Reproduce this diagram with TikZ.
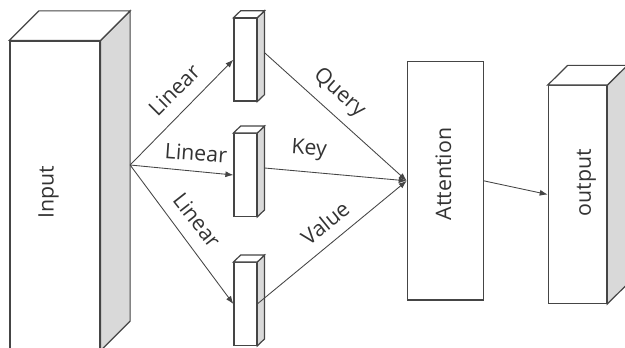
\documentclass[tikz,border=0pt]{standalone}
\usepackage{fontspec}
\setmainfont{Open Sans}
\usetikzlibrary{arrows.meta}

\definecolor{edge}{HTML}{454545}
\definecolor{sidegray}{HTML}{D9D9D9}
\definecolor{ink}{HTML}{333333}

% top and right faces of a cuboid whose front face is node #1, depth (#2,#3) in px
\newcommand\cubefaces[3]{%
  \draw[boxline, fill=sidegray] (#1.north east) -- ++(#2,-#3)
    -- ([shift={(#2,-#3)}]#1.south east) -- (#1.south east) -- cycle;
  \draw[boxline, fill=white] (#1.north west) -- ++(#2,-#3)
    -- ([shift={(#2,-#3)}]#1.north east) -- (#1.north east) -- cycle;
}

\begin{document}
\begin{tikzpicture}[x=0.75pt, y=-0.75pt,
  boxline/.style={draw=edge, line width=0.9pt, line join=miter},
  face/.style={boxline, fill=white, inner sep=0pt, rectangle},
  conn/.style={draw=edge, line width=0.65pt, -{Latex[length=6pt,width=4.5pt]}},
  plain/.style={draw=edge, line width=0.65pt},
  lbl/.style={text=ink, font=\fontsize{16}{18}\selectfont, inner sep=0pt},
]
\useasboundingbox (0,0) rectangle (625,348);
\clip (0,0) rectangle (625,348);

% Input block
\node[face, minimum width=67.5pt, minimum height=231.75pt] (inp) at (55,195.5) {};
\cubefaces{inp}{29.5}{29.5}
\node[lbl, rotate=90] (inptxt) at (48.5,192.5) {Input};

% Query / Key / Value blocks
\node[face, minimum width=17pt, minimum height=62pt] (qb) at (245.3,59.7) {};
\cubefaces{qb}{7.3}{7}
\node[face, minimum width=17pt, minimum height=62pt] (kb) at (245.3,175) {};
\cubefaces{kb}{7.3}{7}
\node[face, minimum width=17pt, minimum height=62pt] (vb) at (245.3,304) {};
\cubefaces{vb}{7.3}{7}

% Attention block
\node[face, minimum width=57pt, minimum height=178.7pt] (att) at (445.3,180.85) {};
\node[lbl, rotate=90] (atttxt) at (443.5,174) {Attention};

% output block
\node[face, minimum width=43.8pt, minimum height=163.2pt] (outb) at (577.5,194.5) {};
\cubefaces{outb}{20}{19.7}
\node[lbl, rotate=90] (outtxt) at (586.5,182.5) {output};

% connector end points on the depth faces
\coordinate (src) at ([shift={(29.5,-30.5)}]inp.east);
\coordinate (qout) at ([shift={(7.3,-7)}]qb.east);
\coordinate (kout) at ([shift={(7.3,-7)}]kb.east);

% projections
\draw[conn] (src) -- (qb.west);
\draw[conn] (src) -- (kb.west);
\draw[conn] (src) -- (vb.west);

\draw[conn] (qout) -- (att.west);
\draw[conn] (kout) -- (att.west);
\draw[conn] (vb.east) -- (att.west);

\draw[conn] (att.east) -- (outb.west);

% labels
\node[lbl, rotate=45] (l1) at (174,90) {Linear};
\node[lbl, rotate=-4] (l2) at (196,153) {Linear};
\node[lbl, rotate=-52] (l3) at (197,220) {Linear};
\node[lbl, rotate=-42] (lq) at (339,93) {Query};
\node[lbl, rotate=-4] (lk) at (309,150) {Key};
\node[lbl, rotate=39] (lv) at (325,223) {Value};
\end{tikzpicture}
\end{document}
